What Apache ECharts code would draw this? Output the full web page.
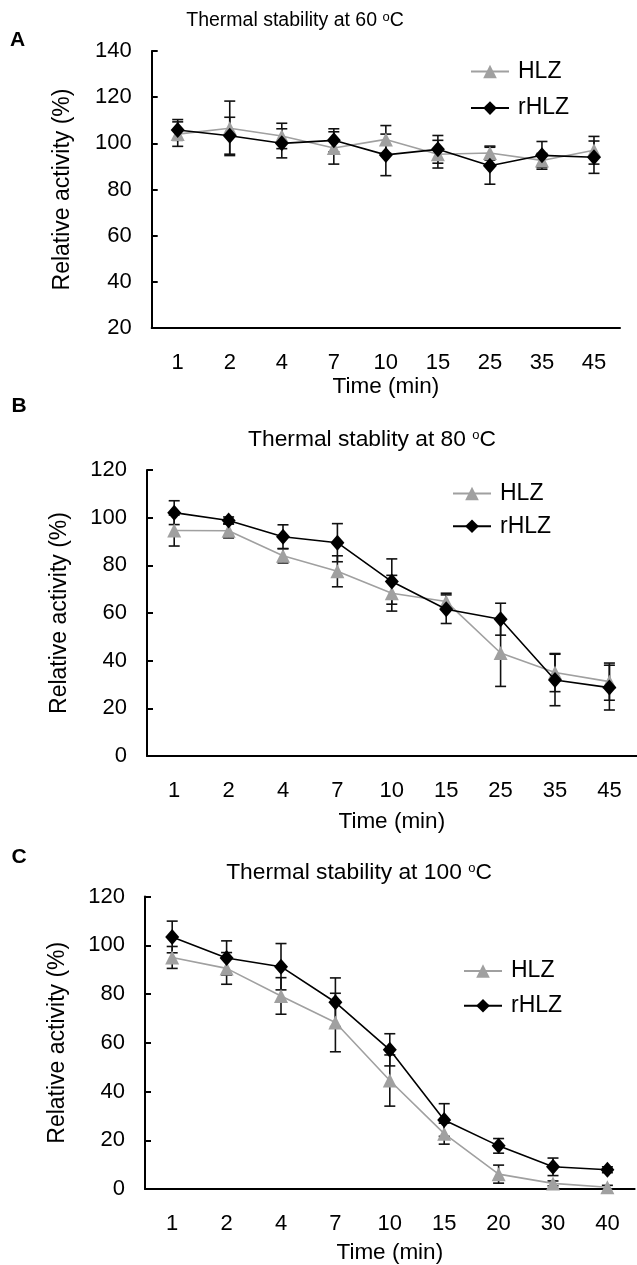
<!DOCTYPE html>
<html>
<head>
<meta charset="utf-8">
<script src="https://cdn.jsdelivr.net/npm/echarts@6/dist/echarts.min.js"></script>
<style>
html,body{margin:0;padding:0;background:#fff;}
#chart{width:637px;height:1265px;}
</style>
</head>
<body>
<div id="chart"></div>
<script>
// ---------- data ----------
const catsAB = ['1', '2', '4', '7', '10', '15', '25', '35', '45'];
const catsC = ['1', '2', '4', '7', '10', '15', '20', '30', '40'];

const A_HLZ = [104, 106.5, 103.2, 98, 101.7, 95.3, 95.8, 92.6, 97];
const A_HLZ_err = [5.3, 11.8, 5.5, 7, 6, 6, 3, 3, 6];
const A_rHLZ = [105.8, 103.3, 100, 101.3, 95, 97.4, 90.3, 94.8, 94];
const A_rHLZ_err = [4.5, 8, 6.3, 5, 9, 6, 8, 6, 7];

const B_HLZ = [94.6, 94.5, 84, 77.5, 68.3, 64.8, 43.2, 35, 31.2];
const B_HLZ_err = [6.5, 3, 3, 6.5, 7.5, 3.5, 14, 8, 7.8];
const B_rHLZ = [102.1, 98.8, 92, 89.5, 73.2, 61.6, 57.4, 31.9, 28.7];
const B_rHLZ_err = [5, 1.5, 5, 8, 9.5, 6, 6.7, 10.8, 9.4];

const C_HLZ = [95, 90.5, 79.2, 68.3, 44.5, 22.7, 6.1, 2.3, 0.7];
const C_HLZ_err = [4.5, 6.5, 7.5, 12, 10.5, 4.3, 3.7, 1, 0.8];
const C_rHLZ = [103.4, 94.8, 91.2, 76.6, 57.1, 28.3, 17.7, 9.1, 7.9];
const C_rHLZ_err = [6.5, 7, 9.5, 10, 6.6, 6.7, 3, 3.6, 1.2];

const yTicksA = [20, 140, 20];   // min, max, interval
const yTicksBC = [0, 120, 20];

const titles = ['Thermal stability at 60 {o|o}C', 'Thermal stablity at 80 {o|o}C', 'Thermal stability at 100 {o|o}C'];
const panelLetters = ['A', 'B', 'C'];
const seriesNames = ['HLZ', 'rHLZ'];
const xName = 'Time (min)';
const yName = 'Relative activity (%)';

// ---------- styling / layout ----------
const FONT = 'Liberation Sans, Arial, sans-serif';
const GRAY = '#a0a0a0';
const BLACK = '#000';

const grids = [
  { left: 151.7, top: 51, width: 468.3, height: 277 },
  { left: 147, top: 470, width: 489.6, height: 286 },
  { left: 145, top: 896.5, width: 489.6, height: 293.5 }
];
const xNameGaps = [47, 54, 52];
const yNameGaps = [78, 76, 76];
const legendPos = [
  { left: 465, top: 55, itemGap: 13.6 },
  { left: 447, top: 477, itemGap: 9.7 },
  { left: 458, top: 954.5, itemGap: 11.7 }
];
const titlePos = [
  { x: 295, y: 21, size: 19.5 },
  { x: 372, y: 440, size: 22.8 },
  { x: 359, y: 873, size: 22.8 }
];
const letterPos = [
  { x: 10, y: 40 },
  { x: 11.5, y: 406.5 },
  { x: 11.5, y: 857.5 }
];

const panels = [
  { cats: catsAB, h: A_HLZ, he: A_HLZ_err, r: A_rHLZ, re: A_rHLZ_err, y: yTicksA },
  { cats: catsAB, h: B_HLZ, he: B_HLZ_err, r: B_rHLZ, re: B_rHLZ_err, y: yTicksBC },
  { cats: catsC, h: C_HLZ, he: C_HLZ_err, r: C_rHLZ, re: C_rHLZ_err, y: yTicksBC }
];

const xAxes = [], yAxes = [], series = [], legends = [], graphics = [];

function errRender(params, api) {
  const x = api.value(0);
  const hi = api.coord([x, api.value(2)]);
  const lo = api.coord([x, api.value(1)]);
  const cw = 5.5;
  const st = { stroke: '#111', lineWidth: 1.6, fill: null };
  return {
    type: 'group',
    children: [
      { type: 'line', shape: { x1: hi[0], y1: hi[1], x2: lo[0], y2: lo[1] }, style: st },
      { type: 'line', shape: { x1: hi[0] - cw, y1: hi[1], x2: hi[0] + cw, y2: hi[1] }, style: st },
      { type: 'line', shape: { x1: lo[0] - cw, y1: lo[1], x2: lo[0] + cw, y2: lo[1] }, style: st }
    ]
  };
}

panels.forEach((p, i) => {
  xAxes.push({
    type: 'category', gridIndex: i, data: p.cats, boundaryGap: true,
    name: xName, nameLocation: 'middle', nameGap: xNameGaps[i],
    nameTextStyle: { fontFamily: FONT, fontSize: 22.5, color: BLACK },
    axisLine: { onZero: false, lineStyle: { color: BLACK, width: 2 } },
    axisTick: { inside: true, length: 6, lineStyle: { color: BLACK, width: 2 } },
    axisLabel: { interval: 0, margin: 24, fontFamily: FONT, fontSize: 22, color: BLACK },
    splitLine: { show: false }
  });
  yAxes.push({
    type: 'value', gridIndex: i, min: p.y[0], max: p.y[1], interval: p.y[2],
    name: yName, nameLocation: 'middle', nameGap: yNameGaps[i], nameRotate: 90,
    nameTextStyle: { fontFamily: FONT, fontSize: 23, color: BLACK },
    axisLine: { show: true, lineStyle: { color: BLACK, width: 2 } },
    axisTick: { show: true, inside: true, length: 6, lineStyle: { color: BLACK, width: 2 } },
    axisLabel: { margin: 20, fontFamily: FONT, fontSize: 22, color: BLACK, padding: [8, 0, 0, 0] },
    splitLine: { show: false }
  });

  const hErr = p.h.map((v, k) => [k, v - p.he[k], v + p.he[k]]);
  const rErr = p.r.map((v, k) => [k, v - p.re[k], v + p.re[k]]);

  series.push({
    type: 'custom', name: 'errH' + i, xAxisIndex: i, yAxisIndex: i,
    renderItem: errRender, data: hErr, z: 1, silent: true
  });
  series.push({
    type: 'custom', name: 'errR' + i, xAxisIndex: i, yAxisIndex: i,
    renderItem: errRender, data: rErr, z: 1, silent: true
  });
  series.push({
    type: 'line', name: seriesNames[0], xAxisIndex: i, yAxisIndex: i, data: p.h,
    symbol: 'triangle', symbolSize: 14, showAllSymbol: true,
    lineStyle: { color: GRAY, width: 1.6 },
    itemStyle: { color: GRAY, borderWidth: 0 },
    z: 3, animation: false
  });
  series.push({
    type: 'line', name: seriesNames[1], xAxisIndex: i, yAxisIndex: i, data: p.r,
    symbol: 'diamond', symbolSize: [14, 16], showAllSymbol: true,
    lineStyle: { color: BLACK, width: 1.6 },
    itemStyle: { color: BLACK, borderWidth: 0 },
    z: 4, animation: false
  });

  legends.push({
    orient: 'vertical', left: legendPos[i].left, top: legendPos[i].top,
    itemGap: legendPos[i].itemGap, itemWidth: 38, itemHeight: 17,
    data: seriesNames, selectedMode: false,
    textStyle: { fontFamily: FONT, fontSize: 23, color: BLACK, padding: [0, 0, 0, 4] }
  });

  graphics.push({
    type: 'text', x: titlePos[i].x, y: titlePos[i].y,
    style: {
      text: titles[i], fontFamily: FONT, fontSize: titlePos[i].size, fill: BLACK,
      align: 'center', verticalAlign: 'middle',
      rich: { o: { fontSize: 13, verticalAlign: 'top', fontFamily: FONT, fill: BLACK } }
    }
  });
  graphics.push({
    type: 'text', x: letterPos[i].x, y: letterPos[i].y,
    style: {
      text: panelLetters[i], fontFamily: FONT, fontSize: 21, fontWeight: 'bold', fill: BLACK,
      align: 'left', verticalAlign: 'middle'
    }
  });
});

const chart = echarts.init(document.getElementById('chart'), null, { renderer: 'canvas' });
chart.setOption({
  backgroundColor: '#fff',
  animation: false,
  grid: grids.map(g => Object.assign({ containLabel: false }, g)),
  xAxis: xAxes,
  yAxis: yAxes,
  legend: legends,
  series: series,
  graphic: graphics
});
</script>
</body>
</html>
